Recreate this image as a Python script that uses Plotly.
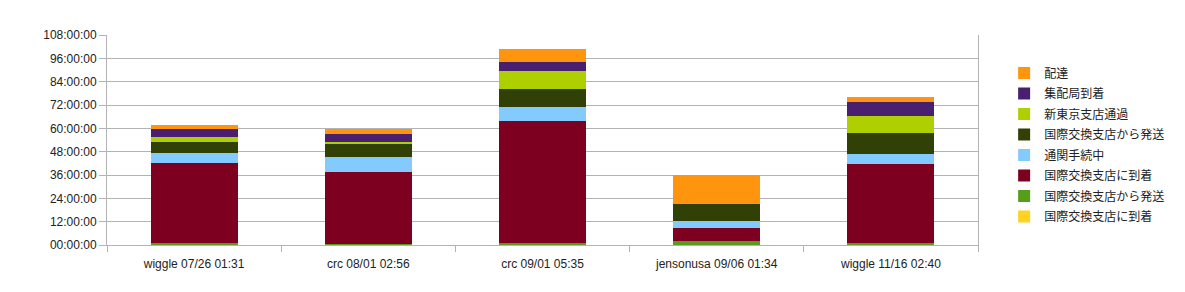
import plotly.graph_objects as go

categories = ["wiggle 07/26 01:31", "crc 08/01 02:56", "crc 09/01 05:35",
              "jensonusa 09/06 01:34", "wiggle 11/16 02:40"]

# hours per stage, bottom to top
arrive_exchange_1 = [0.0, 0.0, 0.0, 0.0, 0.0]
ship_exchange_1 = [0.9, 0.3, 1.2, 2.1, 0.9]
arrive_exchange_2 = [41.1, 37.4, 62.7, 6.8, 40.6]
customs = [5.2, 7.4, 6.9, 3.6, 5.3]
ship_exchange_2 = [5.8, 6.9, 9.4, 8.6, 11.0]
shin_tokyo = [2.4, 1.0, 9.3, 0.0, 8.7]
delivery_office = [4.3, 4.1, 4.8, 0.0, 7.2]
delivered = [2.0, 2.4, 6.4, 14.9, 2.6]

series_names = ["国際交換支店に到着", "国際交換支店から発送", "国際交換支店に到着", "通関手続中",
                "国際交換支店から発送", "新東京支店通過", "集配局到着", "配達"]
series_values = [arrive_exchange_1, ship_exchange_1, arrive_exchange_2, customs,
                 ship_exchange_2, shin_tokyo, delivery_office, delivered]
colors = ["#FFD320", "#579D1C", "#7E0021", "#83CAFF", "#314004", "#AECF00", "#4B1F6F", "#FF950E"]

y_ticks = list(range(0, 109, 12))
y_tick_labels = [f"{h:02d}:00:00" for h in y_ticks]

fig = go.Figure()
for i, (name, vals, col) in enumerate(zip(series_names, series_values, colors)):
    fig.add_trace(go.Bar(x=categories, y=vals, name=name, marker_color=col,
                         marker_line_width=0, width=0.5, legendgroup=f"g{i}",
                         legendrank=1000 - i))

grid = "#b3b3b3"
fig.update_layout(
    barmode="stack",
    width=1185, height=292,
    margin=dict(l=107, r=207, t=35, b=47, autoexpand=False),
    plot_bgcolor="white", paper_bgcolor="white",
    font=dict(family="Liberation Sans, Noto Sans CJK JP, sans-serif", size=12, color="#222"),
    legend=dict(traceorder="grouped", x=1.03, xanchor="left", y=0.476, yanchor="middle",
                font=dict(family="Noto Sans CJK JP, Liberation Sans", size=12),
                itemwidth=30, tracegroupgap=1.5),
    showlegend=True,
    bargap=0.5,
)
fig.update_xaxes(type="category", tickson="boundaries", ticks="outside", ticklen=6,
                 tickcolor=grid, showline=True, linecolor=grid, showgrid=False,
                 ticklabelstandoff=8)
fig.update_yaxes(range=[0, 108], tickvals=y_ticks, ticktext=y_tick_labels,
                 showgrid=True, gridcolor=grid, showline=True, linecolor=grid, mirror=True,
                 ticks="outside", ticklen=7, tickcolor=grid, zeroline=False)

fig.write_html("out.html")
